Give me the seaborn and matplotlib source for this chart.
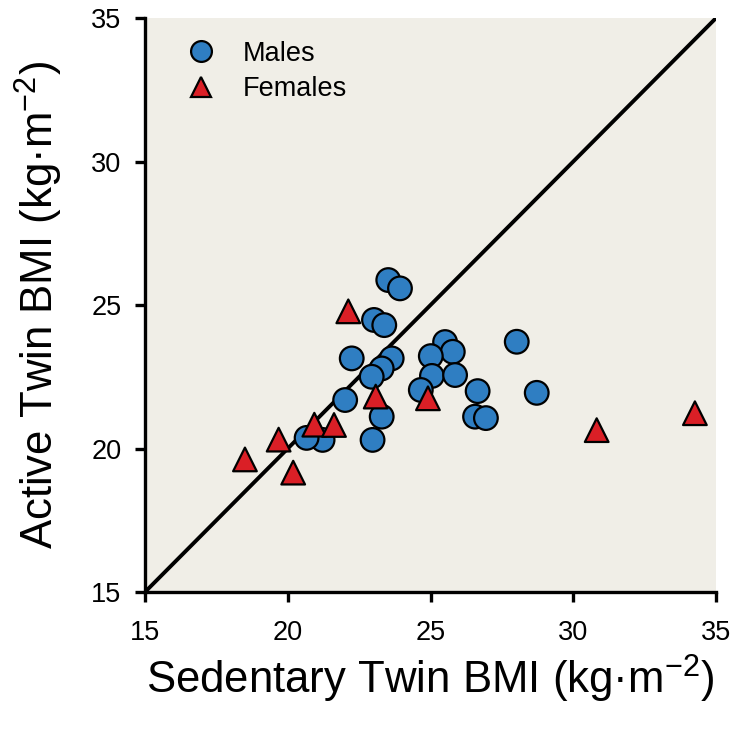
import numpy as np
import pandas as pd
import matplotlib
matplotlib.use("Agg")
import matplotlib.pyplot as plt
import seaborn as sns

# Sedentary (x) vs Active (y) twin BMI
male_sed = [23.52, 23.93, 23.02, 23.38, 22.24, 23.64, 23.29, 22.94, 22.01, 23.29,
            22.97, 21.22, 20.66, 25.51, 25.78, 25.01, 25.05, 25.86, 24.66, 26.65,
            26.56, 26.94, 28.02, 28.72]
male_act = [25.87, 25.58, 24.48, 24.30, 23.14, 23.14, 22.79, 22.50, 21.69, 21.11,
            20.30, 20.30, 20.37, 23.71, 23.37, 23.22, 22.53, 22.56, 22.04, 22.00,
            21.11, 21.06, 23.72, 21.94]
female_sed = [18.50, 19.68, 20.19, 20.93, 21.62, 22.12, 23.08, 24.91, 30.82, 34.26]
female_act = [19.62, 20.31, 19.16, 20.83, 20.82, 24.78, 21.81, 21.75, 20.64, 21.23]

sexes = ["Males", "Females"]
ticks = [15, 20, 25, 30, 35]

df = pd.DataFrame({
    "sed": male_sed + female_sed,
    "act": male_act + female_act,
    "sex": ["Males"] * len(male_sed) + ["Females"] * len(female_sed),
})

sns.set_style("ticks")
plt.rcParams["font.family"] = ["Liberation Sans", "DejaVu Sans"]
plt.rcParams["mathtext.fontset"] = "custom"
plt.rcParams["mathtext.rm"] = "Liberation Sans"
plt.rcParams["mathtext.it"] = "Liberation Sans:italic"
for k in ["text.color", "axes.labelcolor", "xtick.color", "ytick.color", "axes.edgecolor"]:
    plt.rcParams[k] = "black"

fig = plt.figure(figsize=(7.41, 7.39), dpi=100)
ax = fig.add_axes([0.1957, 0.1989, 0.7706, 0.7767])
ax.set_facecolor("#F0EEE7")

ax.plot([15, 35], [15, 35], color="black", lw=2.8, zorder=1)

sns.scatterplot(data=df, x="sed", y="act", hue="sex", style="sex",
                hue_order=sexes, style_order=sexes,
                palette={"Males": "#2F7EC2", "Females": "#DA1F26"},
                markers={"Males": "o", "Females": "^"},
                s=290, edgecolor="black", linewidth=1.6, ax=ax, zorder=3,
                clip_on=False)

ax.set_xlim(15, 35)
ax.set_ylim(15, 35)
ax.set_xticks(ticks)
ax.set_yticks(ticks)
ax.tick_params(axis="both", direction="out", length=7, width=2.4,
               labelsize=19.5, color="black", labelcolor="black")
ax.tick_params(axis="x", pad=13)
ax.tick_params(axis="y", pad=10)
for side in ["top", "right"]:
    ax.spines[side].set_visible(False)
for side in ["left", "bottom"]:
    ax.spines[side].set_linewidth(2.4)

ax.set_xlabel("Sedentary Twin BMI (kg·m$^{\\mathrm{-2}}$)", fontsize=31.5, labelpad=5)
ax.set_ylabel("Active Twin BMI (kg·m$^{\\mathrm{-2}}$)", fontsize=31.5, labelpad=19)

leg = ax.legend(loc="upper left", bbox_to_anchor=(0.017, 1.003), frameon=False,
                fontsize=19.5, handletextpad=0.75, labelspacing=0.35,
                handlelength=1.6)
for h in leg.legend_handles:
    h.set_markersize(15)
    h.set_markeredgecolor("black")
    h.set_markeredgewidth(1.6)

fig.savefig("out.png", dpi=100, facecolor="white")
